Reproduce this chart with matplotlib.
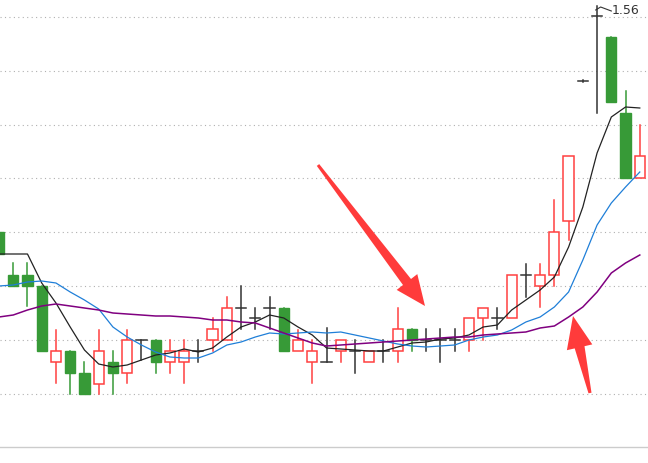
import matplotlib
matplotlib.use("Agg")
import matplotlib.pyplot as plt
from matplotlib.patches import Rectangle, Polygon
import numpy as np

# values (screen level units; smaller = higher price)
opens  = [232,275,275,286,362,351,373,384,362,373,340,340,362,362,351,340,340,308,318,308,308,351,362,362,351,351,362,351,351,329,340,340,340,340,318,318,318,275,286,275,221,81,16,37,113,178]
closes = [254,286,286,351,351,373,394,351,373,340,340,362,351,351,351,329,308,308,318,308,351,340,351,362,340,351,351,351,329,340,340,340,340,318,308,318,275,275,275,232,156,81,16,102,178,156]
highs  = [225,263,263,286,330,351,362,330,351,330,340,340,340,340,340,318,297,286,308,297,308,330,340,328,340,340,351,340,308,329,329,329,329,318,308,308,275,264,264,200,156,80,6,37,91,125]
lows   = [254,286,306,351,383,394,394,394,394,383,360,373,373,383,362,351,340,329,329,329,351,351,383,362,362,373,362,362,362,351,351,362,351,351,340,329,318,297,307,286,240,82,113,102,178,178]
ma5  = [254,254,254,283,303,327,350,364,367,365,360,355,353,349,352,348,337,327,322,315,318,327,335,348,349,350,351,351,347,343,342,339,338,335,327,325,310,300,290,277,247,207,153,117,107,108]
ma10 = [286,285,282,281,283,292,300,309,327,337,345,352,357,358,358,353,345,342,337,333,334,333,332,333,332,335,338,341,344,346,347,346,345,340,337,335,330,322,317,307,292,260,225,203,187,172]
ma20 = [317,315,310,306,304,306,308,310,313,314,315,316,316,317,318,320,320,322,323,328,333,338,343,346,345,344,343,342,341,340,339,338,337,337,335,334,333,332,328,326,317,307,292,273,263,255]
high_label = "1.56"

RED, GREEN, DARK = "#ff4040", "#379a37", "#333333"
fig = plt.figure(figsize=(6.48, 4.63), dpi=100)
ax = fig.add_axes([0, 0, 1, 1])
n = len(opens)
x = np.arange(n)
w = 0.72
for i in x:
    o, c, h, l = opens[i], closes[i], highs[i], lows[i]
    if o == c:
        ax.plot([i, i], [h, l], color=DARK, lw=1.1)
        ax.plot([i - w/2, i + w/2], [o, o], color=DARK, lw=1.1)
    elif c < o:  # rising
        ax.plot([i, i], [h, c], color=RED, lw=1.1)
        ax.plot([i, i], [o, l], color=RED, lw=1.1)
        ax.add_patch(Rectangle((i - w/2, c), w, o - c, facecolor="white", edgecolor=RED, lw=1.1, zorder=3))
    else:
        ax.plot([i, i], [h, l], color=GREEN, lw=1.1)
        ax.add_patch(Rectangle((i - w/2, o), w, c - o, facecolor=GREEN, edgecolor=GREEN, lw=1, zorder=3))
xe = np.append(x, x[-1] + 0.6)
ax.plot(x, ma5, color="#222222", lw=0.9, zorder=4)
ax.plot(x, ma10, color="#1f7fd8", lw=0.9, zorder=4)
ax.plot(x, ma20, color="#800080", lw=1.1, zorder=4)

for g in [17, 71, 125, 178, 232, 286, 340, 394]:
    ax.axhline(g, color="#b0b0b0", lw=0.8, ls=(0, (1, 3)), zorder=0)
ax.axhline(447, color="#cccccc", lw=1, zorder=0)

ax.set_xlim(1/14.24, 649/14.24)
ax.set_ylim(463, 0)
ax.axis("off")

ax.plot([42 - 0.1, 42.25, 43.0], [10, 7, 11], color=DARK, lw=0.8)
ax.text(43.05, 11, high_label, fontsize=9, color=DARK, va="center", ha="left")

def arrow(pts):
    P = [(px / 648, 1 - py / 463) for px, py in pts]
    fig.patches.append(Polygon(P, closed=True, transform=fig.transFigure, facecolor="#ff3b3b", edgecolor="none", zorder=10))
arrow([(319.2,164.1),(411,279),(417.3,274.1),(425,306),(396.7,289.9),(403,285),(316.8,165.9)])
arrow([(591.5,392.7),(584.5,346.2),(592.3,344.4),(573,316),(566.9,350.2),(574.7,348.4),(588.5,393.3)])

fig.savefig("out.png", dpi=100, facecolor="white")
